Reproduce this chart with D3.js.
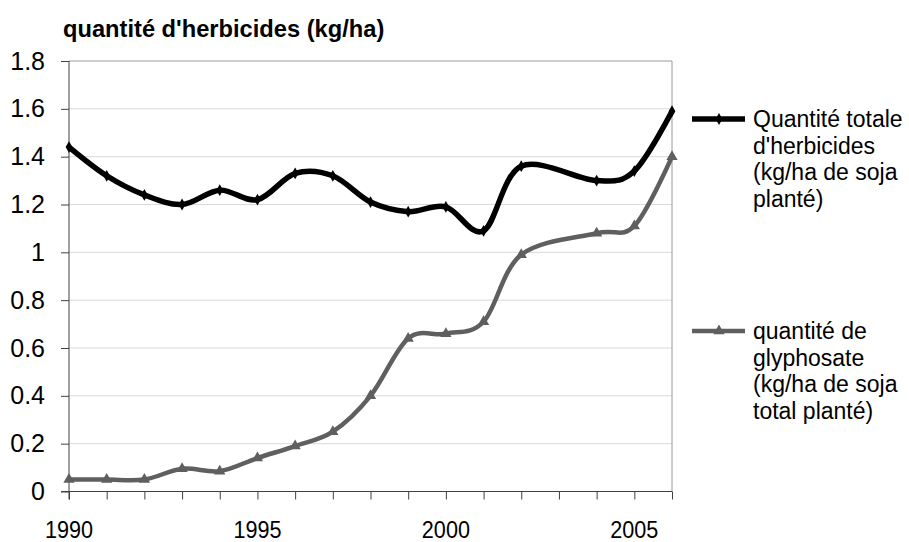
<!DOCTYPE html>
<html>
<head>
<meta charset="utf-8">
<script src="https://cdn.jsdelivr.net/npm/d3@7"></script>
<style>
  body { margin: 0; background: #fff; }
  svg { display: block; font-family: "Liberation Sans", Arial, sans-serif; }
</style>
</head>
<body>
<script>
// values (2003 has no point in either series)
let years = [1990,1991,1992,1993,1994,1995,1996,1997,1998,1999,2000,2001,2002,2003,2004,2005,2006];
let totalHerb = [1.44,1.32,1.24,1.20,1.26,1.22,1.33,1.32,1.21,1.17,1.19,1.09,1.36,null,1.30,1.34,1.59];
let glypho = [0.05,0.05,0.05,0.095,0.085,0.14,0.19,0.25,0.40,0.64,0.66,0.71,0.99,null,1.08,1.11,1.40];
let yTicks = [0,0.2,0.4,0.6,0.8,1,1.2,1.4,1.6,1.8];
let xLabels = [1990,1995,2000,2005];
let titleText = "quantité d'herbicides (kg/ha)";
let legendTotal = ["Quantité totale", "d'herbicides", "(kg/ha de soja", "planté)"];
let legendGly = ["quantité de", "glyphosate", "(kg/ha de soja", "total planté)"];

let W = 909, H = 542;
let pLeft = 69, pRight = 672, pTop = 61, pBottom = 491.5;

let svg = d3.select('body')
    .append('svg')
        .attr('width', W)
        .attr('height', H);

let x = d3.scaleLinear().domain([1990, 2006]).range([pLeft, pRight]);
let y = d3.scaleLinear().domain([0, 1.8]).range([pBottom, pTop]);

// gridlines
svg.append('g')
    .selectAll('line')
    .data(yTicks.filter(d => d > 0 && d < 1.8))
    .join('line')
        .attr('x1', pLeft).attr('x2', pRight)
        .attr('y1', d => y(d)).attr('y2', d => y(d))
        .attr('stroke', '#d9d9d9')
        .attr('stroke-width', 1);

// plot area border (top + right)
svg.append('path')
    .attr('d', `M${pLeft},${y(1.8)}H${pRight}V${pBottom}`)
    .attr('fill', 'none')
    .attr('stroke', '#9a9a9a')
    .attr('stroke-width', 1);

// y axis
let yAxis = svg.append('g')
    .attr('transform', `translate(${pLeft},0)`)
    .call(d3.axisLeft(y).tickValues(yTicks).tickSize(8).tickFormat(d => String(+d.toFixed(1))));
yAxis.select('.domain').remove();
yAxis.append('line').attr('x1', 0).attr('x2', 0).attr('y1', pTop).attr('y2', pBottom + 8)
    .attr('stroke', '#404040');
yAxis.selectAll('.tick line').attr('stroke', '#404040');
yAxis.selectAll('.tick text')
    .attr('x', -24).attr('dy', null)
    .attr('y', 8)
    .attr('text-anchor', 'end')
    .attr('font-size', 25)
    .attr('fill', '#000');

// x axis
let xAxis = svg.append('g')
    .attr('transform', `translate(0,${pBottom})`)
    .call(d3.axisBottom(x).tickValues(years).tickSize(8).tickFormat(''));
xAxis.select('.domain').remove();
xAxis.append('line').attr('x1', pLeft - 8).attr('x2', pRight).attr('y1', 0).attr('y2', 0)
    .attr('stroke', '#404040');
xAxis.selectAll('.tick line').attr('stroke', '#404040');

svg.append('g')
    .selectAll('text')
    .data(xLabels)
    .join('text')
        .attr('transform', d => `translate(${x(d)},538) scale(0.94,1)`)
        .attr('text-anchor', 'middle')
        .attr('font-size', 23)
        .text(d => d);

// title
svg.append('text')
    .attr('transform', 'translate(63,36.5) scale(1.03,1)')
    .attr('font-size', 23)
    .attr('font-weight', 'bold')
    .text(titleText);

// lines
function AddSeries(vals, color, width, marker, msize) {
    let pts = years.map((yr, i) => [yr, vals[i]]).filter(p => p[1] !== null);
    let line = d3.line()
        .x(p => x(p[0]))
        .y(p => y(p[1]))
        .curve(d3.curveCardinal.tension(0));
    svg.append('path')
        .datum(pts)
        .attr('d', line)
        .attr('fill', 'none')
        .attr('stroke', color)
        .attr('stroke-width', width)
        .attr('stroke-linejoin', 'round');
    svg.append('g')
        .selectAll('path')
        .data(pts)
        .join('path')
            .attr('transform', p => `translate(${x(p[0])},${y(p[1])})`)
            .attr('d', d3.symbol(marker, msize))
            .attr('fill', color);
}

AddSeries(glypho, '#5f5f5f', 4.5, d3.symbolTriangle, 55);
AddSeries(totalHerb, '#000', 5.5, d3.symbolDiamond, 40);

// legend
function AddLegend(ly, color, width, marker, msize, lines) {
    svg.append('line')
        .attr('x1', 692).attr('x2', 745)
        .attr('y1', ly).attr('y2', ly)
        .attr('stroke', color)
        .attr('stroke-width', width);
    svg.append('path')
        .attr('transform', `translate(719,${ly})`)
        .attr('d', d3.symbol(marker, msize))
        .attr('fill', color);
    let t = svg.append('text')
        .attr('transform', `translate(753,${ly + 8})`)
        .attr('font-size', 23);
    t.selectAll('tspan')
        .data(lines)
        .join('tspan')
            .attr('x', 0)
            .attr('y', (d, i) => i * 26.7)
            .text(d => d);
}

AddLegend(119, '#000', 5.5, d3.symbolDiamond, 40, legendTotal);
AddLegend(331, '#5f5f5f', 4.5, d3.symbolTriangle, 55, legendGly);
</script>
</body>
</html>
